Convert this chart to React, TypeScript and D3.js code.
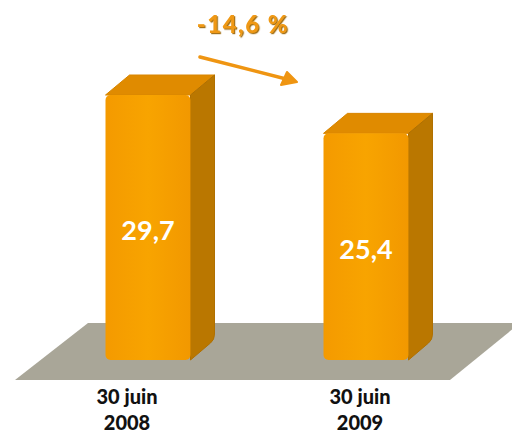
import React from "react";
import * as d3 from "d3";

const categories = ["30 juin\n2008", "30 juin\n2009"];
const values = [29.7, 25.4];
const valueLabels = ["29,7", "25,4"];
const changeLabel = "-14,6 %";

const W = 512;
const H = 435;

export default function App() {
  const x = d3.scalePoint<string>().domain(categories).range([148, 366]);
  const xLabel = d3.scalePoint<string>().domain(categories).range([127, 360]);
  const y = d3.scaleLinear().domain([0, 29.7]).range([360, 95]);
  const bw = 85;
  const dx = 24;
  const dy = -20;

  const floor = "M88,323 L520,323 L450,380 L15,380 Z";

  return (
    <div style={{ position: "fixed", left: 0, top: 0, width: W, height: H, overflow: "hidden" }}>
      <svg width={W} height={H} style={{ display: "block" }}>
        <defs>
          <linearGradient id="front" x1="0" x2="1" y1="0" y2="0">
            <stop offset="0" stopColor="#f49a00" />
            <stop offset="0.5" stopColor="#f8a400" />
            <stop offset="1" stopColor="#f29800" />
          </linearGradient>
          <filter id="sh" x="-20%" y="-20%" width="140%" height="140%">
            <feDropShadow dx="1.2" dy="1.2" stdDeviation="0.5" floodColor="#9a6200" floodOpacity="0.9" />
          </filter>
        </defs>
        <rect width={W} height={H} fill="#ffffff" />
        <path d={floor} fill="#a9a698" />
        {categories.map((c, i) => {
          const cx = x(c) as number;
          const x0 = cx - bw / 2;
          const x1 = cx + bw / 2;
          const yt = y(values[i]);
          const yb = y(0);
          const top = `M${x0},${yt} L${x0 + dx},${yt + dy} L${x1 + dx},${yt + dy} L${x1},${yt} Z`;
          const side = `M${x1},${yt} L${x1 + dx},${yt + dy} L${x1 + dx},${yb + dy - 6} Q${x1 + dx},${yb + dy} ${x1 + dx - 4},${yb + dy + 3} L${x1},${yb} Z`;
          return (
            <g key={c}>
              <path d={top} fill="#e08b00" stroke="#d98600" strokeWidth={1} strokeLinejoin="round" />
              <path d={side} fill="#ba7700" stroke="#b07000" strokeWidth={1} strokeLinejoin="round" />
              <rect x={x0} y={yt} width={bw} height={yb - yt} rx={5} fill="url(#front)" />
              <text
                x={cx}
                y={(yt + yb) / 2 + 12}
                textAnchor="middle"
                fill="#ffffff"
                fontFamily="Lato, 'Open Sans', sans-serif"
                fontWeight="bold"
                fontSize={27}
              >
                {valueLabels[i]}
              </text>
              {c.split("\n").map((line, j) => (
                <text
                  key={j}
                  x={xLabel(c) as number}
                  y={404 + j * 26}
                  textAnchor="middle"
                  fill="#111111"
                  fontFamily="Lato, 'Open Sans', sans-serif"
                  fontWeight="900"
                  fontSize={20}
                >
                  {line}
                </text>
              ))}
            </g>
          );
        })}
        <text
          x={243}
          y={33}
          textAnchor="middle"
          fill="#ef9812"
          fontFamily="Lato, 'Open Sans', sans-serif"
          fontWeight="900"
          fontSize={24}
          letterSpacing={1.5}
          filter="url(#sh)"
        >
          {changeLabel}
        </text>
        <line x1={200} y1={57} x2={290} y2={80} stroke="#ef9512" strokeWidth={3.5} strokeLinecap="round" />
        <path d="M297,82 L281,85 L287,72 Z" fill="#ef9512" stroke="#ef9512" strokeWidth={2} strokeLinejoin="round" />
      </svg>
    </div>
  );
}
